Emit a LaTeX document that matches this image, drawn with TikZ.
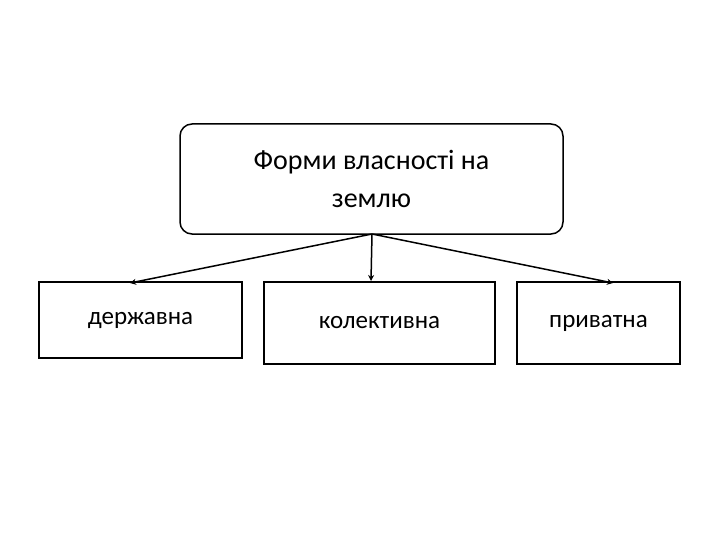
\documentclass[tikz,border=0pt]{standalone}
\usepackage{fontspec}
\usetikzlibrary{arrows.meta}
\setmainfont{Carlito}
\begin{document}
\begin{tikzpicture}[x=1pt,y=-1pt,
  box/.style={draw,line width=1.5pt,inner sep=0pt,font=\fontsize{25}{30}\selectfont},
  arr/.style={draw,line width=1.5pt,-{Stealth[length=6pt,width=6pt]}}]
\useasboundingbox (0,0) rectangle (720,540);
\node[box,rounded corners=12pt,minimum width=383pt,minimum height=110pt,align=center,font=\fontsize{28}{38}\selectfont] (top) at (371.5,179) {Форми власності на\\землю};
\node[box,minimum width=203pt,minimum height=76pt] (a) at (140.5,320) {державна};
\node[box,minimum width=231pt,minimum height=82pt] (b) at (379.5,323) {колективна};
\node[box,minimum width=163pt,minimum height=82pt] (c) at (598.5,323) {приватна};
\coordinate (s) at (372,234);
\coordinate (ea) at (130,283);
\coordinate (eb) at (371,281);
\coordinate (ec) at (613,283);
\draw[arr] (s) -- (ea);
\draw[arr] (s) -- (eb);
\draw[arr] (s) -- (ec);
\end{tikzpicture}
\end{document}
